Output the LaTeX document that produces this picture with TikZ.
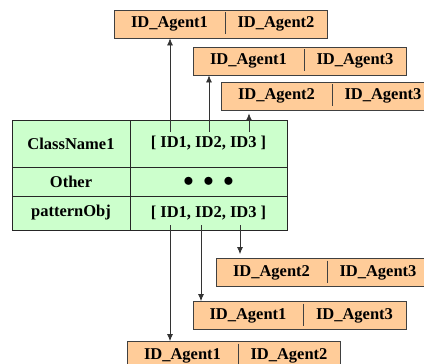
\documentclass[tikz,border=0pt]{standalone}
\usepackage{fontspec}
\setmainfont{Liberation Serif}
\usetikzlibrary{arrows.meta}
\definecolor{agentfill}{HTML}{FFCC99}
\definecolor{tablefill}{HTML}{CCFFCC}

\begin{document}
\begin{tikzpicture}[x=1pt, y=-1pt, >={Latex[length=7pt, width=6pt]}, txt/.style={font=\bfseries\fontsize{16.5}{19}\selectfont, inner sep=0pt}]
\useasboundingbox (0,0) rectangle (424,364);
\tikzstyle{agt}=[draw=black!75, fill=agentfill, line width=0.8pt, minimum width=213pt, minimum height=28pt, inner sep=0pt]
\tikzstyle{cell}=[draw=black!85, fill=tablefill, line width=0.8pt, inner sep=0pt, txt]
\tikzstyle{link}=[->, draw=black!80, line width=0.7pt]
% table
\foreach \n/\y/\h/\a/\b in {r1/143.5/47/ClassName1/{[ ID1, ID2, ID3 ]},r3/213/34/patternObj/{[ ID1, ID2, ID3 ]}}{
  \node[cell, minimum width=118pt, minimum height=\h pt] (\n a) at (71,\y){\a};
  \node[cell, minimum width=157pt, minimum height=\h pt] (\n b) at (208.5,\y){\b};}
\node[cell, minimum width=118pt, minimum height=29pt] (r2a) at (71,181.5){Other};
\node[cell, minimum width=157pt, minimum height=29pt, font=\fontsize{22}{22}\selectfont] (r2b) at (208.5,181.5){$\bullet\hspace{5pt}\bullet\hspace{5pt}\bullet$\hspace{9pt}};
% agent pairs
\foreach \n/\x/\y/\d/\i/\j in {T1/114/24/225/1/2,T2/193/61/304/1/3,T3/221/96/332/2/3,B1/216/272.5/327/2/3,B2/193/315.5/303/1/3,B3/127/355.5/238/1/2}{
  \node[agt] (\n) at (\x+106.5,\y){};
  \draw[black!75, line width=0.8pt] (\d,\y-12) -- (\d,\y+10);
  \node[txt] (\n l) at ({(\x+\d)/2},\y){ID\_Agent\i};
  \node[txt] (\n r) at ({(\d+\x+213)/2},\y){ID\_Agent\j};}
% links
\coordinate (u1) at (170,132);
\coordinate (u2) at (209,132);
\coordinate (u3) at (249,132);
\coordinate (d1) at (170,225);
\coordinate (d2) at (201,225);
\coordinate (d3) at (240,225);
\draw[link] (u1) -- (u1 |- T1.south);
\draw[link] (u2) -- (u2 |- T2.south);
\draw[link, shorten >=3pt] (u3) -- (u3 |- T3.south);
\draw[link] (d1) -- (d1 |- B3.north);
\draw[link] (d2) -- (d2 |- B2.north);
\draw[link, shorten >=4pt] (d3) -- (d3 |- B1.north);
\end{tikzpicture}
\end{document}
